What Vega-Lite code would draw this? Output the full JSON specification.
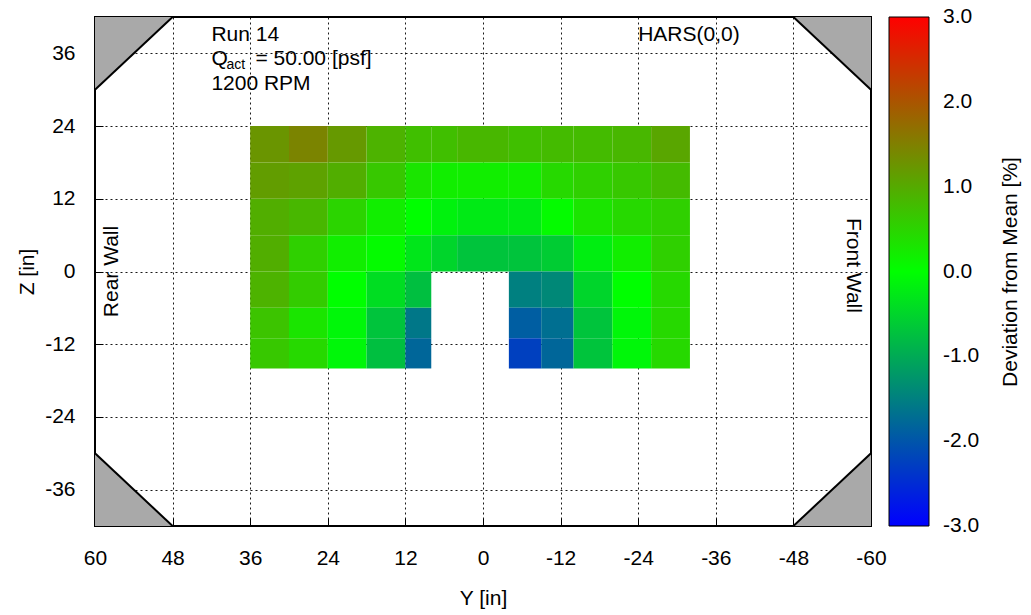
{
  "$schema": "https://vega.github.io/schema/vega-lite/v6.json",
  "autosize": {"type": "none"},
  "width": 776,
  "height": 509,
  "padding": {"left": 95, "top": 17, "right": 160, "bottom": 89},
  "background": "white",
  "config": {
    "font": "Liberation Sans",
    "view": {"stroke": "black", "strokeWidth": 2},
    "axis": {
      "labelFont": "Liberation Sans",
      "titleFont": "Liberation Sans",
      "labelFontSize": 21,
      "titleFontSize": 21,
      "titleFontWeight": "normal",
      "labelColor": "black",
      "titleColor": "black",
      "labelFlush": false,
      "labelExpr": "'' + datum.value",
      "domain": false,
      "ticks": true,
      "tickColor": "black",
      "tickSize": -8,
      "tickWidth": 1,
      "grid": true,
      "gridColor": "black",
      "gridDash": [2, 3],
      "gridWidth": 1,
      "gridOpacity": 0.9,
      "zindex": 1
    },
    "legend": {
      "labelFont": "Liberation Sans",
      "titleFont": "Liberation Sans"
    }
  },
  "datasets": {
    "cells": [
      {"y1": 36, "y2": 30, "z1": 24, "z2": 18, "v": 1.25},
      {"y1": 30, "y2": 24, "z1": 24, "z2": 18, "v": 1.45},
      {"y1": 24, "y2": 18, "z1": 24, "z2": 18, "v": 1.2},
      {"y1": 18, "y2": 12, "z1": 24, "z2": 18, "v": 0.9},
      {"y1": 12, "y2": 8, "z1": 24, "z2": 18, "v": 0.75},
      {"y1": 8, "y2": 4, "z1": 24, "z2": 18, "v": 0.75},
      {"y1": 4, "y2": 0, "z1": 24, "z2": 18, "v": 0.85},
      {"y1": 0, "y2": -4, "z1": 24, "z2": 18, "v": 0.85},
      {"y1": -4, "y2": -9, "z1": 24, "z2": 18, "v": 0.75},
      {"y1": -9, "y2": -14, "z1": 24, "z2": 18, "v": 0.8},
      {"y1": -14, "y2": -20, "z1": 24, "z2": 18, "v": 0.8},
      {"y1": -20, "y2": -26, "z1": 24, "z2": 18, "v": 0.85},
      {"y1": -26, "y2": -32, "z1": 24, "z2": 18, "v": 1.05},

      {"y1": 36, "y2": 30, "z1": 18, "z2": 12, "v": 1.15},
      {"y1": 30, "y2": 24, "z1": 18, "z2": 12, "v": 1.1},
      {"y1": 24, "y2": 18, "z1": 18, "z2": 12, "v": 0.95},
      {"y1": 18, "y2": 12, "z1": 18, "z2": 12, "v": 0.65},
      {"y1": 12, "y2": 8, "z1": 18, "z2": 12, "v": 0.3},
      {"y1": 8, "y2": 4, "z1": 18, "z2": 12, "v": 0.2},
      {"y1": 4, "y2": 0, "z1": 18, "z2": 12, "v": 0.2},
      {"y1": 0, "y2": -4, "z1": 18, "z2": 12, "v": 0.2},
      {"y1": -4, "y2": -9, "z1": 18, "z2": 12, "v": 0.2},
      {"y1": -9, "y2": -14, "z1": 18, "z2": 12, "v": 0.45},
      {"y1": -14, "y2": -20, "z1": 18, "z2": 12, "v": 0.55},
      {"y1": -20, "y2": -26, "z1": 18, "z2": 12, "v": 0.65},
      {"y1": -26, "y2": -32, "z1": 18, "z2": 12, "v": 0.8},

      {"y1": 36, "y2": 30, "z1": 12, "z2": 6, "v": 0.95},
      {"y1": 30, "y2": 24, "z1": 12, "z2": 6, "v": 0.85},
      {"y1": 24, "y2": 18, "z1": 12, "z2": 6, "v": 0.5},
      {"y1": 18, "y2": 12, "z1": 12, "z2": 6, "v": 0.2},
      {"y1": 12, "y2": 8, "z1": 12, "z2": 6, "v": 0.0},
      {"y1": 8, "y2": 4, "z1": 12, "z2": 6, "v": -0.15},
      {"y1": 4, "y2": 0, "z1": 12, "z2": 6, "v": -0.25},
      {"y1": 0, "y2": -4, "z1": 12, "z2": 6, "v": -0.25},
      {"y1": -4, "y2": -9, "z1": 12, "z2": 6, "v": -0.25},
      {"y1": -9, "y2": -14, "z1": 12, "z2": 6, "v": 0.05},
      {"y1": -14, "y2": -20, "z1": 12, "z2": 6, "v": 0.3},
      {"y1": -20, "y2": -26, "z1": 12, "z2": 6, "v": 0.45},
      {"y1": -26, "y2": -32, "z1": 12, "z2": 6, "v": 0.55},

      {"y1": 36, "y2": 30, "z1": 6, "z2": 0, "v": 0.95},
      {"y1": 30, "y2": 24, "z1": 6, "z2": 0, "v": 0.55},
      {"y1": 24, "y2": 18, "z1": 6, "z2": 0, "v": 0.2},
      {"y1": 18, "y2": 12, "z1": 6, "z2": 0, "v": 0.05},
      {"y1": 12, "y2": 8, "z1": 6, "z2": 0, "v": -0.3},
      {"y1": 8, "y2": 4, "z1": 6, "z2": 0, "v": -0.5},
      {"y1": 4, "y2": 0, "z1": 6, "z2": 0, "v": -0.7},
      {"y1": 0, "y2": -4, "z1": 6, "z2": 0, "v": -0.7},
      {"y1": -4, "y2": -9, "z1": 6, "z2": 0, "v": -0.7},
      {"y1": -9, "y2": -14, "z1": 6, "z2": 0, "v": -0.6},
      {"y1": -14, "y2": -20, "z1": 6, "z2": 0, "v": -0.2},
      {"y1": -20, "y2": -26, "z1": 6, "z2": 0, "v": 0.2},
      {"y1": -26, "y2": -32, "z1": 6, "z2": 0, "v": 0.55},

      {"y1": 36, "y2": 30, "z1": 0, "z2": -6, "v": 0.9},
      {"y1": 30, "y2": 24, "z1": 0, "z2": -6, "v": 0.6},
      {"y1": 24, "y2": 18, "z1": 0, "z2": -6, "v": 0.0},
      {"y1": 18, "y2": 12, "z1": 0, "z2": -6, "v": -0.4},
      {"y1": 12, "y2": 8, "z1": 0, "z2": -6, "v": -0.75},
      {"y1": -4, "y2": -9, "z1": 0, "z2": -6, "v": -1.5},
      {"y1": -9, "y2": -14, "z1": 0, "z2": -6, "v": -1.4},
      {"y1": -14, "y2": -20, "z1": 0, "z2": -6, "v": -0.5},
      {"y1": -20, "y2": -26, "z1": 0, "z2": -6, "v": 0.0},
      {"y1": -26, "y2": -32, "z1": 0, "z2": -6, "v": 0.45},

      {"y1": 36, "y2": 30, "z1": -6, "z2": -11, "v": 0.7},
      {"y1": 30, "y2": 24, "z1": -6, "z2": -11, "v": 0.3},
      {"y1": 24, "y2": 18, "z1": -6, "z2": -11, "v": -0.1},
      {"y1": 18, "y2": 12, "z1": -6, "z2": -11, "v": -0.7},
      {"y1": 12, "y2": 8, "z1": -6, "z2": -11, "v": -1.6},
      {"y1": -4, "y2": -9, "z1": -6, "z2": -11, "v": -1.9},
      {"y1": -9, "y2": -14, "z1": -6, "z2": -11, "v": -1.7},
      {"y1": -14, "y2": -20, "z1": -6, "z2": -11, "v": -0.7},
      {"y1": -20, "y2": -26, "z1": -6, "z2": -11, "v": -0.1},
      {"y1": -26, "y2": -32, "z1": -6, "z2": -11, "v": 0.45},

      {"y1": 36, "y2": 30, "z1": -11, "z2": -16, "v": 0.65},
      {"y1": 30, "y2": 24, "z1": -11, "z2": -16, "v": 0.45},
      {"y1": 24, "y2": 18, "z1": -11, "z2": -16, "v": -0.1},
      {"y1": 18, "y2": 12, "z1": -11, "z2": -16, "v": -0.75},
      {"y1": 12, "y2": 8, "z1": -11, "z2": -16, "v": -1.8},
      {"y1": -4, "y2": -9, "z1": -11, "z2": -16, "v": -2.25},
      {"y1": -9, "y2": -14, "z1": -11, "z2": -16, "v": -1.8},
      {"y1": -14, "y2": -20, "z1": -11, "z2": -16, "v": -0.7},
      {"y1": -20, "y2": -26, "z1": -11, "z2": -16, "v": -0.1},
      {"y1": -26, "y2": -32, "z1": -11, "z2": -16, "v": 0.45}
    ],
    "corners": [
      {"corner": "TL", "y": 60, "z": 30, "zt": 42},
      {"corner": "TL", "y": 48, "z": 42, "zt": 42},
      {"corner": "TR", "y": -48, "z": 42, "zt": 42},
      {"corner": "TR", "y": -60, "z": 30, "zt": 42},
      {"corner": "BL", "y": 60, "z": -30, "zt": -42},
      {"corner": "BL", "y": 48, "z": -42, "zt": -42},
      {"corner": "BR", "y": -48, "z": -42, "zt": -42},
      {"corner": "BR", "y": -60, "z": -30, "zt": -42}
    ]
  },
  "layer": [
    {
      "data": {"name": "cells"},
      "mark": {"type": "rect", "strokeWidth": 0},
      "encoding": {
        "x": {
          "field": "y1", "type": "quantitative",
          "scale": {"domain": [60, -60], "nice": false, "zero": false},
          "axis": {"values": [60, 48, 36, 24, 12, 0, -12, -24, -36, -48, -60], "title": "Y [in]", "labelPadding": 29, "titlePadding": 19}
        },
        "x2": {"field": "y2"},
        "y": {
          "field": "z1", "type": "quantitative",
          "scale": {"domain": [-42, 42], "nice": false, "zero": false},
          "axis": {"values": [36, 24, 12, 0, -12, -24, -36], "title": "Z [in]", "labelPadding": 28, "titlePadding": 7}
        },
        "y2": {"field": "z2"},
        "color": {
          "field": "v", "type": "quantitative",
          "scale": {"domain": [-3, 0, 3], "range": ["#0000ff", "#00ff00", "#ff0000"], "interpolate": "rgb"},
          "legend": {
            "orient": "right", "offset": 14,
            "direction": "vertical",
            "gradientLength": 509, "gradientThickness": 40,
            "gradientStrokeColor": "black", "gradientStrokeWidth": 1,
            "values": [-3, -2, -1, 0, 1, 2, 3],
            "labelExpr": "datum.value < 0 ? '-' + format(-datum.value, '.1f') : format(datum.value, '.1f')",
            "labelFontSize": 21, "labelColor": "black", "labelOffset": 14, "labelBaseline": "middle",
            "labelOverlap": false,
            "title": "Deviation from Mean [%]", "titleOrient": "right", "titleAngle": 270,
            "titleFontSize": 21, "titleFontWeight": "normal", "titleColor": "black",
            "titleAnchor": "middle", "titlePadding": 32, "titleBaseline": "middle", "titleLimit": 800,
            "encode": {
              "labels": {"update": {"baseline": {"value": "middle"}}},
              "title": {"update": {"angle": {"value": 270}}}
            }
          }
        }
      }
    },
    {
      "data": {"name": "corners"},
      "mark": {"type": "area", "orient": "vertical", "color": "#a9a9a9", "opacity": 1},
      "encoding": {
        "x": {"field": "y", "type": "quantitative"},
        "y": {"field": "z", "type": "quantitative"},
        "y2": {"field": "zt"},
        "detail": {"field": "corner"}
      }
    },
    {
      "data": {"name": "corners"},
      "mark": {"type": "line", "color": "black", "strokeWidth": 2},
      "encoding": {
        "x": {"field": "y", "type": "quantitative"},
        "y": {"field": "z", "type": "quantitative"},
        "detail": {"field": "corner"}
      }
    },
    {
      "mark": {"type": "rule", "color": "black", "strokeWidth": 1},
      "encoding": {"y": {"datum": 0}}
    },
    {
      "mark": {"type": "rule", "color": "black", "strokeWidth": 1},
      "encoding": {"x": {"datum": 0}}
    },
    {
      "data": {"values": [{"y": 42, "z": 39, "t": "Run 14"}, {"y": 42, "z": 35, "t": "Q"}, {"y": 42, "z": 31, "t": "1200 RPM"}, {"y": -24, "z": 39, "t": "HARS(0,0)"}]},
      "mark": {"type": "text", "align": "left", "baseline": "middle", "fontSize": 21, "color": "black"},
      "encoding": {
        "x": {"field": "y", "type": "quantitative"},
        "y": {"field": "z", "type": "quantitative"},
        "text": {"field": "t"}
      }
    },
    {
      "data": {"values": [{"y": 42, "z": 35, "t": "act"}]},
      "mark": {"type": "text", "align": "left", "baseline": "middle", "fontSize": 14, "color": "black", "dx": 15, "dy": 6},
      "encoding": {
        "x": {"field": "y", "type": "quantitative"},
        "y": {"field": "z", "type": "quantitative"},
        "text": {"field": "t"}
      }
    },
    {
      "data": {"values": [{"y": 42, "z": 35, "t": "= 50.00 [psf]"}]},
      "mark": {"type": "text", "align": "left", "baseline": "middle", "fontSize": 21, "color": "black", "dx": 44},
      "encoding": {
        "x": {"field": "y", "type": "quantitative"},
        "y": {"field": "z", "type": "quantitative"},
        "text": {"field": "t"}
      }
    },
    {
      "data": {"values": [{"y": 57.4, "z": 0, "t": "Rear Wall"}]},
      "mark": {"type": "text", "align": "center", "baseline": "middle", "fontSize": 21, "color": "black", "angle": 270},
      "encoding": {
        "x": {"field": "y", "type": "quantitative"},
        "y": {"field": "z", "type": "quantitative"},
        "text": {"field": "t"}
      }
    },
    {
      "data": {"values": [{"y": -57.2, "z": 1, "t": "Front Wall"}]},
      "mark": {"type": "text", "align": "center", "baseline": "middle", "fontSize": 21, "color": "black", "angle": 90},
      "encoding": {
        "x": {"field": "y", "type": "quantitative"},
        "y": {"field": "z", "type": "quantitative"},
        "text": {"field": "t"}
      }
    }
  ]
}
